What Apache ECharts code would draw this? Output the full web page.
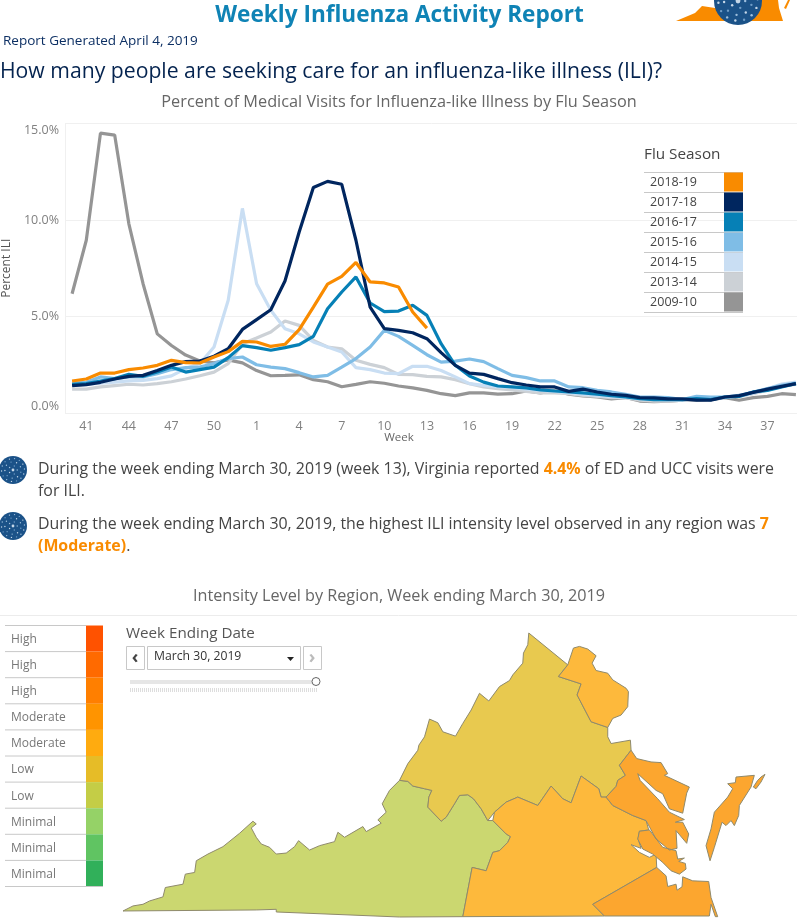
<!DOCTYPE html>
<html><head><meta charset="utf-8">
<style>html,body{margin:0;padding:0;background:#fff;overflow:hidden}#c{width:797px;height:922px}</style>
<script src="https://cdn.jsdelivr.net/npm/echarts@6/dist/echarts.min.js"></script>
</head><body><div id="c"></div>
<script>
// ---------- data ----------
const weeks = [40,41,42,43,44,45,46,47,48,49,50,51,52,1,2,3,4,5,6,7,8,9,10,11,12,13,14,15,16,17,18,19,20,21,22,23,24,25,26,27,28,29,30,31,32,33,34,35,36,37,38,39];
const s200910 = [6.18,8.95,14.5,14.4,9.8,6.7,4.1,3.5,3.0,2.7,2.6,2.75,2.6,2.2,1.93,1.95,1.98,1.73,1.62,1.36,1.48,1.62,1.54,1.4,1.3,1.17,1.0,0.9,1.04,1.04,0.98,1.0,1.14,1.04,1.17,0.97,0.88,0.83,0.73,0.8,0.62,0.59,0.62,0.66,0.67,0.69,0.8,0.66,0.8,0.86,1.0,0.95];
const s201314 = [1.24,1.24,1.35,1.42,1.49,1.45,1.52,1.62,1.76,1.93,2.12,2.56,3.59,3.89,4.2,4.77,4.54,3.76,3.42,3.33,2.73,2.52,2.35,2.0,1.99,1.9,1.87,1.73,1.52,1.35,1.26,1.2,1.12,1.04,1.04,1.0,0.91,0.86,0.8,0.8,0.66,0.62,0.62,0.66,0.69,0.74,0.83,0.86,1.0,1.2,1.43,1.48];
const s201415 = [1.43,1.48,1.55,1.6,1.66,1.69,1.78,1.92,2.3,2.56,3.42,5.84,10.6,6.7,5.32,4.37,4.1,3.68,3.42,3.16,2.35,2.25,2.07,2.04,2.42,2.42,2.2,1.87,1.52,1.43,1.35,1.31,1.24,1.17,1.12,1.04,0.97,0.9,0.85,0.8,0.74,0.7,0.68,0.68,0.7,0.72,0.8,0.88,1.02,1.25,1.5,1.6];
const s201516 = [1.55,1.59,1.87,1.78,1.87,1.87,2.04,2.25,2.35,2.38,2.56,2.82,2.9,2.5,2.38,2.3,2.09,1.87,1.95,2.38,2.82,3.42,4.28,3.97,3.5,3.02,2.64,2.69,2.8,2.66,2.3,1.95,1.83,1.66,1.66,1.35,1.31,1.17,1.09,0.97,0.83,0.83,0.8,0.69,0.86,0.83,0.83,0.91,1.09,1.26,1.43,1.55];
const s201617 = [1.49,1.52,1.66,1.78,2.0,1.9,2.12,2.38,2.12,2.25,2.38,2.87,3.49,3.39,3.25,3.39,3.54,3.97,5.4,6.27,7.05,5.7,5.25,5.28,5.58,5.06,3.59,2.47,1.92,1.6,1.4,1.35,1.3,1.2,1.14,1.09,1.04,0.97,0.9,0.83,0.74,0.69,0.69,0.69,0.74,0.69,0.83,0.86,1.09,1.17,1.35,1.52];
const s201718 = [1.42,1.47,1.59,1.76,1.9,1.95,2.2,2.47,2.66,2.69,2.94,3.33,4.33,4.84,5.35,6.84,9.38,11.68,12.0,11.85,8.95,5.49,4.37,4.28,4.16,3.85,3.13,2.47,2.07,2.0,1.78,1.57,1.45,1.35,1.35,1.12,1.24,1.09,0.97,0.91,0.8,0.78,0.73,0.73,0.67,0.67,0.83,0.9,1.07,1.24,1.38,1.52];
const s201819 = [1.66,1.76,2.07,2.07,2.25,2.33,2.47,2.73,2.61,2.59,2.9,3.18,3.71,3.68,3.45,3.56,4.32,5.49,6.68,7.08,7.8,6.79,6.74,6.53,5.23,4.4];
const seasonNames = ['2018-19','2017-18','2016-17','2015-16','2014-15','2013-14','2009-10'];
const seasonValues = [s201819,s201718,s201617,s201516,s201415,s201314,s200910];
const seasonColors = ['#f98b00','#00265f','#0680b6','#7fbde6','#c9def3','#ccd1d6','#959595'];
const levelLabels = ['High','High','High','Moderate','Moderate','Low','Low','Minimal','Minimal','Minimal'];
const levelColors = ['#ff5200','#ff6a00','#ff7f00','#ff9400','#ffab0f','#e6bc27','#c4cd46','#95d267','#60c462','#31b05a'];
const regionNames = ['Southwest','Northwest','Northern','Central','Eastern'];
const regionColors = ['#cbd770','#e8c94f','#fdb93c','#fdb93c','#fca62f'];

// Outline of each region, in map units
const W = [[370,900],[400,885],[430,880],[450,870],[490,858],[497,830],[550,820],[557,790],[585,785],[590,750],[625,730],[670,708],[720,668],[760,632],[770,640],[755,652],[770,680],[785,700],[810,710],[830,730],[860,727],[885,708],[897,690],[930,718],[960,705],[1005,693],[1015,665],[1035,680],[1090,648],[1100,663],[1145,638],[1135,628],[1160,605],[1148,580],[1170,540],[1200,510]];
const R = p => p.map(([x,y]) => [x+1200, y+30]);
const seam = [[0,480],[25,483],[40,497],[75,505],[97,510],[88,530],[85,560],[125,602],[140,590],[165,550],[180,525],[205,523],[222,535],[245,565],[265,600]];
const southwest = [...W, ...R([...seam,[280,600],[320,640],[333,648],[325,665],[300,690],[280,695],[260,750],[218,740],[190,887]]), [1200,918],[830,903],[830,895],[770,897]];
const northwest = R([[388,40],[505,135],[477,170],[545,192],[533,225],[575,305],[625,322],[625,350],[635,370],[693,360],[695,390],[660,435],[678,465],[655,480],[650,498],[620,530],[605,530],[598,505],[545,467],[515,547],[490,535],[455,497],[415,555],[355,530],[320,545],[285,575],...seam.slice().reverse(),[25,430],[55,390],[58,375],[75,350],[90,297],[115,308],[130,335],[168,348],[190,310],[215,270],[240,220],[268,243],[300,200],[330,182],[340,165],[370,130],[372,100],[385,75]]);
const northern = R([[505,135],[522,85],[540,80],[565,88],[590,108],[578,130],[590,152],[625,160],[640,180],[680,205],[687,215],[685,260],[665,285],[640,295],[625,322],[575,305],[533,225],[545,192],[477,170]]);
const central = R([[620,530],[640,555],[670,570],[700,585],[740,600],[748,628],[720,632],[716,655],[725,683],[695,672],[720,695],[750,710],[770,700],[772,740],[580,850],[615,885],[190,887],[218,740],[260,750],[280,695],[300,690],[325,665],[333,648],[320,640],[280,600],[285,575],[320,545],[355,530],[415,555],[455,497],[490,535],[515,547],[545,467],[598,505],[605,530]]);
const easternNeck = R([[695,390],[712,415],[755,425],[785,427],[805,460],[795,465],[870,500],[862,518],[850,578],[810,565],[790,520],[770,510],[715,460],[722,480],[775,535],[810,575],[855,597],[828,605],[850,605],[868,640],[862,668],[830,630],[833,683],[810,688],[770,655],[740,600],[700,585],[670,570],[640,555],[620,530],[650,498],[655,480],[678,465],[660,435]]);
const easternPen = R([[720,632],[750,628],[790,680],[830,690],[835,715],[855,712],[838,722],[858,728],[860,745],[840,760],[815,750],[790,725],[760,700],[730,685],[715,655]]);
const easternTide = R([[772,740],[800,765],[805,797],[830,790],[833,808],[848,798],[850,768],[880,780],[928,782],[935,830],[955,887],[948,887],[935,850],[930,885],[615,885],[580,850]]);
const easternShore = R([[1010,470],[1065,465],[1055,500],[1020,555],[1018,585],[1005,615],[995,600],[980,615],[968,605],[945,680],[932,720],[920,675],[935,625],[945,575],[985,530],[1000,505],[985,490],[1008,487]]);
const easternIsle = R([[1062,500],[1075,480],[1085,470],[1097,462],[1085,485],[1070,505]]);
const regionShapes = [[southwest],[northwest],[northern],[central],[easternNeck,easternPen,easternTide,easternShore,easternIsle]];

// ---------- build ----------
const geo = {type:'FeatureCollection',features:regionNames.map((n,i)=>({type:'Feature',properties:{name:n},
  geometry:{type:'MultiPolygon',coordinates:regionShapes[i].map(r=>[[...r,r[0]].map(([x,y])=>[x,-y])])}}))};
echarts.registerMap('va',geo);

const FONT='"Open Sans", Lato, sans-serif';
const txt=(x,y,text,o={})=>({type:'text',x,y,silent:true,style:Object.assign({text,fontFamily:FONT,fontSize:13,fill:'#555',textVerticalAlign:'middle'},o)});
const rect=(x,y,w,h,fill,o={})=>({type:'rect',silent:true,shape:{x,y,width:w,height:h},style:Object.assign({fill},o)});
const line=(x1,y1,x2,y2,stroke,lw=1,dash)=>({type:'line',silent:true,shape:{x1,y1,x2,y2},style:{stroke,lineWidth:lw,lineDash:dash}});

const g=[];
g.push(txt(399.5,15.5,'Weekly Influenza Activity Report',{fontSize:22.6,fontWeight:'bold',fill:'#0f83b5',textAlign:'center'}));
g.push(txt(3,41,'Report Generated April 4, 2019',{fontSize:13.5,fill:'#0c2f63'}));
g.push(txt(0,71.5,'How many people are seeking care for an influenza-like illness (ILI)?',{fontSize:21.2,fill:'#04234f'}));
g.push(txt(399,102,'Percent of Medical Visits for Influenza-like Illness by Flu Season',{fontSize:16.3,fill:'#666',textAlign:'center'}));
g.push(txt(644,154.5,'Flu Season',{fontSize:15.3,fill:'#444'}));
for(let i=0;i<=7;i++) g.push(line(644,172.5+i*20,743,172.5+i*20,'#c8c8c8'));
g.push(txt(399,437.5,'Week',{fontSize:11.5,fill:'#666',textAlign:'center'}));
// logo
g.push({type:'polygon',silent:true,shape:{points:[[676,21],[695,13],[702,6],[715,8],[745,0],[778,0],[779,8],[783,21]]},style:{fill:'#f98b00'}});
g.push({type:'polygon',silent:true,shape:{points:[[784,8],[788,0],[790,0],[786,9]]},style:{fill:'#f98b00'}});
const ball=(cx,cy,r)=>{const out=[{type:'circle',silent:true,shape:{cx,cy,r},style:{fill:'#1b5288'}}];
  const fill=['#9fc0de','#6f9cc6','#c5d7e8'];
  for(let a=0;a<3;a++){const rr=[.3,.58,.82][a],n=[5,9,14][a];
    for(let k=0;k<n;k++){const t=(k+a*.4)/n*Math.PI*2;
      out.push({type:'circle',silent:true,shape:{cx:cx+Math.cos(t)*rr*r,cy:cy+Math.sin(t)*rr*r,r:Math.max(.55,.05*r)},style:{fill:fill[(k+a)%3]}});}}
  out.push({type:'circle',silent:true,shape:{cx,cy,r:Math.max(1,.1*r)},style:{fill:'#c5d7e8'}});
  return out;};
g.push(...ball(738,1,24));
g.push(...ball(13,470,14),...ball(13,526,14));
// notes
const rich={b:{fontFamily:FONT,fontSize:15.9,fontWeight:'bold',fill:'#f98b00'},n:{fontFamily:FONT,fontSize:15.9,fill:'#444'}};
const note=(y,t)=>g.push(txt(38,y,t,{fontSize:15.9,fill:'#444',rich,lineHeight:22}));
note(469,'{n|During the week ending March 30, 2019 (week 13), Virginia reported }{b|4.4%}{n| of ED and UCC visits were}');
note(491,'{n|for ILI.}');
note(524.5,'{n|During the week ending March 30, 2019, the highest ILI intensity level observed in any region was }{b|7}');
note(546,'{b|(Moderate)}{n|.}');
g.push(txt(399,596.5,'Intensity Level by Region, Week ending March 30, 2019',{fontSize:16.2,fill:'#666',textAlign:'center'}));
g.push(line(0,615.5,797,615.5,'#ececec'));
// level table
levelLabels.forEach((l,i)=>{const y=625.5+i*26.1;
  g.push(line(5,y,86,y,'#c8c8c8'));
  g.push(rect(86,y,17,26.1,levelColors[i]));
  g.push(txt(11,y+14,l,{fontSize:12,fill:'#777'}));});
g.push(line(5,886.5,103,886.5,'#c8c8c8'));
// filter control
g.push(txt(126,634,'Week Ending Date',{fontSize:15.2,fill:'#555'}));
const box=(x,w)=>rect(x+.5,646.5,w,23,'#fff',{stroke:'#c8c8c8',lineWidth:1});
g.push(box(126,18),box(147,153),box(303,18));
g.push(txt(135,658,'‹',{fontSize:18,fontWeight:'bold',fill:'#444',textAlign:'center'}));
g.push(txt(312,658,'›',{fontSize:18,fontWeight:'bold',fill:'#bbb',textAlign:'center'}));
g.push(txt(154,657,'March 30, 2019',{fontSize:12.2,fill:'#333'}));
g.push({type:'polygon',silent:true,shape:{points:[[287,657],[294,657],[290.5,661]]},style:{fill:'#222'}});
g.push(rect(130,680,186,4,'#e6e6e6'));
g.push({type:'circle',silent:true,shape:{cx:316,cy:681.5,r:4},style:{fill:'#fff',stroke:'#666',lineWidth:1}});
g.push(line(130,690,317,690,'#dddddd',4,[1,1]));

const series=[...seasonNames.keys()].reverse().map(i=>({
  type:'line',name:seasonNames[i],data:seasonValues[i],showSymbol:false,symbol:'none',silent:true,
  lineStyle:{color:seasonColors[i],width:3.2},itemStyle:{color:seasonColors[i]},animation:false,z:10-i}));

const chart=echarts.init(document.getElementById('c'),null,{renderer:'canvas'});
chart.setOption({
  animation:false,backgroundColor:'#fff',
  grid:{left:65,top:123.5,width:738,height:289.5,outerBoundsMode:'none'},
  xAxis:{type:'category',data:weeks,boundaryGap:true,
    axisLine:{show:false},axisTick:{show:false},
    axisLabel:{interval:i=>(i-1)%3===0,color:'#808080',fontFamily:FONT,fontSize:12.5,margin:7}},
  yAxis:{type:'value',min:0,max:15,interval:5,name:'Percent ILI',nameLocation:'middle',nameGap:47,
    nameTextStyle:{fontFamily:FONT,fontSize:12,color:'#555'},
    axisLine:{show:true,lineStyle:{color:'#f0f0f0'}},axisTick:{show:false},
    splitLine:{lineStyle:{color:'#f0f0f0'}},
    axisLabel:{formatter:v=>v.toFixed(1)+'%',color:'#808080',fontFamily:FONT,fontSize:12.5,margin:6,
      verticalAlignMinLabel:'bottom',verticalAlignMaxLabel:'top'}},
  legend:{orient:'vertical',align:'right',right:54,top:172.5,padding:0,itemWidth:19,itemHeight:19,itemGap:1,icon:'rect',selectedMode:false,
    data:seasonNames,textStyle:{fontFamily:FONT,fontSize:12.5,color:'#444',padding:[0,22,0,0]}},
  geo:{map:'va',roam:false,aspectScale:1,left:123,top:633,width:642,height:284,silent:true,
    label:{show:false},
    itemStyle:{areaColor:'#fdb93c',borderColor:'#8f8a6c',borderWidth:1},
    regions:regionNames.map((n,i)=>({name:n,itemStyle:{areaColor:regionColors[i]}}))},
  series,
  graphic:{elements:g}
});
</script></body></html>
